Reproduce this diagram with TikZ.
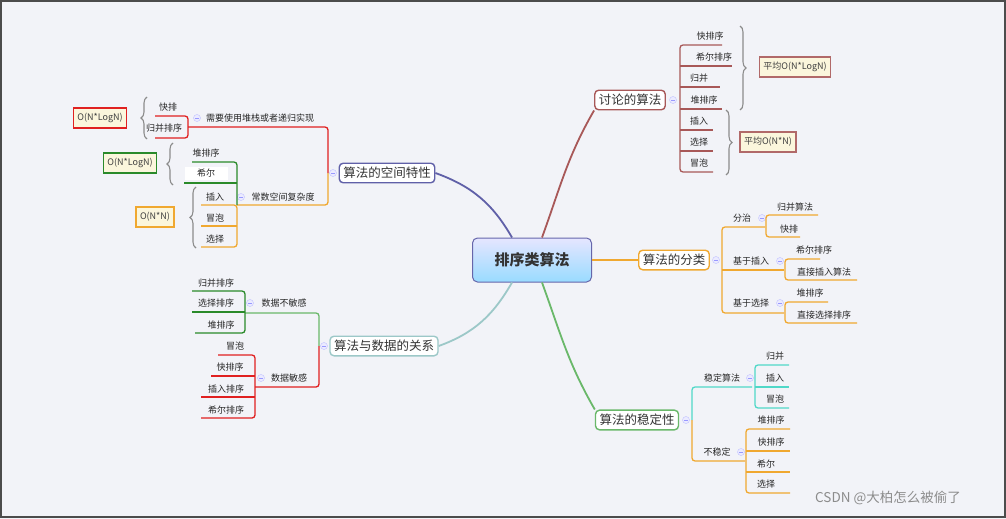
\documentclass[tikz,border=0pt]{standalone}
\usepackage{fontspec}
\setmainfont{Noto Sans CJK SC}
\usetikzlibrary{positioning, decorations.pathreplacing}
\definecolor{bgc}{HTML}{F2F3F8}
\definecolor{cred}{HTML}{E02020}
\definecolor{cgreen}{HTML}{2A8A2A}
\definecolor{corange}{HTML}{F0A830}
\definecolor{cbrown}{HTML}{A85858}
\definecolor{cpurple}{HTML}{6060A8}
\definecolor{cteal}{HTML}{9CC8C8}
\definecolor{cmint}{HTML}{50D8C8}
\definecolor{cgreenb}{HTML}{6AB86A}
\definecolor{cream}{HTML}{FBF6DC}

\tikzset{
  leaf/.style={inner sep=1pt, font=\fontsize{9}{10}\selectfont, text=black!85},
  mid/.style={inner sep=1pt, font=\fontsize{9}{10}\selectfont, text=black!85},
  topic/.style={draw, rounded corners=4pt, line width=1.4pt, fill=white, inner sep=4pt,
    font=\fontsize{12.5}{14}\selectfont, text=black!80},
  note/.style={draw, line width=1.6pt, fill=cream, inner sep=4pt, minimum height=20pt,
    font=\fontsize{9}{10}\selectfont, text=black!75},
  mini/.style={circle, draw=blue!25, fill=blue!8, inner sep=0pt, minimum size=7pt,
    path picture={\draw[blue!40] ([xshift=-2pt]path picture bounding box.center) -- ([xshift=2pt]path picture bounding box.center);}},
  twig/.style={line width=1.3pt, rounded corners=3pt},
  brc/.style={decorate, decoration={brace, amplitude=6pt}, draw=black!45, line width=1.1pt},
}

\begin{document}
\begin{tikzpicture}[x=1pt, y=-1pt]
    \fill[bgc] (0,0) rectangle (1006,519);
    \draw[black!70, line width=1.2pt] (1,1) rectangle (1005,517);

    % center
    \node[draw=blue!45!black!60, rounded corners=5pt, line width=1pt, top color=blue!10, bottom color=blue!35!cyan!40,
      minimum width=119pt, minimum height=44pt, font=\fontsize{15}{17}\selectfont\bfseries, text=black!80] (root) at (532,260) {排序类算法};

    % main topics
    \node[topic, draw=cbrown] (talk) at (630,100) {讨论的算法};
    \node[topic, draw=corange] (kind) at (674,260) {算法的分类};
    \node[topic, draw=cgreenb] (stab) at (637,420) {算法的稳定性};
    \node[topic, draw=cpurple] (space) at (387,173) {算法的空间特性};
    \node[topic, draw=cteal] (data) at (384,346) {算法与数据的关系};

    \draw[cbrown, line width=1.8pt] (root.north east) ++(-50,0) to[out=70, in=240] (talk.south west);
    \draw[corange, line width=2.5pt] (root.east) -- (kind.west);
    \draw[cgreenb, line width=1.8pt] (root.south east) ++(-50,0) to[out=-70, in=120] (stab.north west);
    \draw[cpurple, line width=1.8pt] (root.north west) ++(40,0) to[out=120, in=-20] (space.east);
    \draw[cteal, line width=1.8pt] (root.south west) ++(40,0) to[out=240, in=20] (data.east);

    % ---- 讨论的算法
    \node[mini] (m1) at (673,100) {};
    \draw[cbrown, twig] (722,45) -- (680,45) -- (680,172) -- (713,172);
    \foreach \y/\e in {66/732, 87/720, 109/722, 130/713, 151/713} \draw[cbrown, line width=1.3pt] (680,\y) -- (\e,\y);
    \node[leaf] (t1) at (710,36) {快排序};
    \node[leaf] (t2) at (714,57) {希尔排序};
    \node[leaf] (t3) at (699,78) {归并};
    \node[leaf] (t4) at (704,100) {堆排序};
    \node[leaf] (t5) at (699,121) {插入};
    \node[leaf] (t6) at (699,142) {选择};
    \node[leaf] (t7) at (699,163) {冒泡};
    \draw[brc] (740,26) -- (740,110);
    \draw[brc] (726,110) -- (726,175);
    \node[note, draw=cbrown!90] (n1) at (795,67) {平均O(N*LogN)};
    \node[note, draw=cbrown!90] (n2) at (768,142) {平均O(N*N)};

    % ---- 算法的分类
    \node[mini] (m2) at (716,260) {};
    \draw[corange, twig] (765,227) -- (722,227) -- (722,313) -- (784,313);
    \draw[corange, line width=1.3pt] (722,270) -- (784,270);
    \node[mid] (k1) at (742,218) {分治};
    \node[mid] (k2) at (751,261) {基于插入};
    \node[mid] (k3) at (751,303) {基于选择};
    \node[mini] at (762,218) {};
    \node[mini] at (780,261) {};
    \node[mini] at (780,303) {};
    \draw[corange, twig] (818,215) -- (766,215) -- (766,237) -- (800,237);
    \draw[corange, twig] (820,259) -- (785,259) -- (785,280) -- (857,280);
    \draw[corange, twig] (828,302) -- (785,302) -- (785,323) -- (857,323);
    \node[leaf] (k11) at (795,207) {归并算法};
    \node[leaf] (k12) at (789,229) {快排};
    \node[leaf] (k21) at (814,250) {希尔排序};
    \node[leaf] (k22) at (824,272) {直接插入算法};
    \node[leaf] (k31) at (810,293) {堆排序};
    \node[leaf] (k32) at (824,315) {直接选择排序};

    % ---- 算法的稳定性
    \node[mini] (m3) at (686,420) {};
    \draw[cmint, twig] (752,387) -- (692,387) -- (692,420);
    \draw[corange, twig] (692,420) -- (692,461) -- (745,461);
    \node[mid] (s1) at (722,378) {稳定算法};
    \node[mid] (s2) at (717,452) {不稳定};
    \node[mini] at (750,378) {};
    \node[mini] at (741,452) {};
    \draw[cmint, twig] (789,365) -- (755,365) -- (755,408) -- (789,408);
    \draw[cmint, line width=1.3pt] (755,387) -- (789,387);
    \draw[corange, twig] (790,429) -- (746,429) -- (746,493) -- (790,493);
    \foreach \y in {451,472} \draw[corange, line width=1.3pt] (746,\y) -- (790,\y);
    \node[leaf] (s11) at (775,356) {归并};
    \node[leaf] (s12) at (775,378) {插入};
    \node[leaf] (s13) at (775,399) {冒泡};
    \node[leaf] (s21) at (771,420) {堆排序};
    \node[leaf] (s22) at (771,442) {快排序};
    \node[leaf] (s23) at (766,464) {希尔};
    \node[leaf] (s24) at (766,484) {选择};

    % ---- 算法的空间特性
    \node[mini] (m4) at (333,173) {};
    \draw[cred, twig] (188,127) -- (328,127) -- (328,173);
    \draw[corange, twig] (328,173) -- (328,205) -- (237,205);
    \node[mid] (p1) at (260,118) {需要使用堆栈或者递归实现};
    \node[mid] (p2) at (283,197) {常数空间复杂度};
    \node[mini] at (197,118) {};
    \node[mini] at (241,197) {};
    \draw[cred, twig] (155,116) -- (188,116) -- (188,138) -- (155,138);
    \node[leaf] (p11) at (168,107) {快排};
    \node[leaf] (p12) at (164,128) {归并排序};
    \fill[white] (185,167) rectangle (228,180);
    \draw[cgreen, twig] (192,162) -- (237,162) -- (237,205);
    \draw[cgreen, line width=1.3pt] (184,183) -- (237,183);
    \draw[corange, twig] (201,205) -- (237,205) -- (237,247) -- (201,247);
    \draw[corange, line width=1.3pt] (201,226) -- (237,226);
    \node[leaf] (p21) at (206,153) {堆排序};
    \node[leaf] (p22) at (206,173) {希尔};
    \node[leaf] (p23) at (215,197) {插入};
    \node[leaf] (p24) at (215,218) {冒泡};
    \node[leaf] (p25) at (215,239) {选择};
    \draw[brc] (147,139) -- (147,97);
    \draw[brc] (173,185) -- (173,143);
    \draw[brc] (196,248) -- (196,187);
    \node[note, draw=cred] (n3) at (100,118) {O(N*LogN)};
    \node[note, draw=cgreen] (n4) at (130,163) {O(N*LogN)};
    \node[note, draw=corange] (n5) at (155,217) {O(N*N)};

    % ---- 算法与数据的关系
    \node[mini] (m5) at (324,346) {};
    \draw[cgreenb, twig] (245,313) -- (319,313) -- (319,346);
    \draw[cred, twig] (319,346) -- (319,387) -- (255,387);
    \node[mid] (d1) at (284,303) {数据不敏感};
    \node[mid] (d2) at (289,378) {数据敏感};
    \node[mini] at (250,303) {};
    \node[mini] at (261,378) {};
    \draw[cgreen, twig] (192,291) -- (245,291) -- (245,333) -- (195,333);
    \draw[cgreen, line width=1.3pt] (192,312) -- (245,312);
    \draw[cred, twig] (218,355) -- (255,355) -- (255,418) -- (201,418);
    \draw[cred, line width=1.3pt] (211,376) -- (255,376);
    \draw[cred, line width=1.3pt] (201,397) -- (255,397);
    \node[leaf] (d11) at (216,283) {归并排序};
    \node[leaf] (d12) at (216,303) {选择排序};
    \node[leaf] (d13) at (221,325) {堆排序};
    \node[leaf] (d21) at (235,346) {冒泡};
    \node[leaf] (d22) at (230,367) {快排序};
    \node[leaf] (d23) at (226,389) {插入排序};
    \node[leaf] (d24) at (226,410) {希尔排序};

    \node[text=black!45, font=\fontsize{13.5}{15}\selectfont] (mark) at (888,498) {CSDN @大柏怎么被偷了};
\end{tikzpicture}
\end{document}
